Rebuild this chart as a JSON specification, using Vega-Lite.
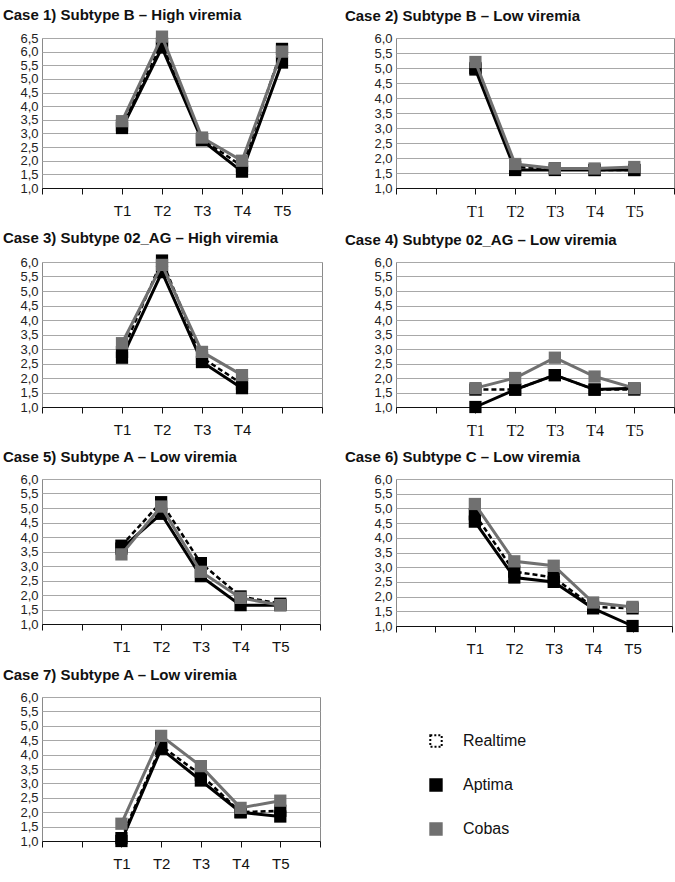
{
  "$schema": "https://vega.github.io/schema/vega-lite/v6.json",
  "padding": {"left": 2, "top": 7, "right": 0, "bottom": 0},
  "background": "white",
  "config": {
    "view": {"stroke": "#8a8a8a", "strokeWidth": 1},
    "title": {"anchor": "start", "font": "Liberation Sans", "fontSize": 15, "fontWeight": "bold", "color": "#111", "dx": -17, "offset": 8},
    "axisX": {"values": [-1, 0, 1, 2, 3, 4, 5, 6], "labelExpr": "datum.value >= 1 && datum.value <= 5 ? 'T' + datum.value : ''", "grid": false, "title": null, "domainColor": "#111", "tickColor": "#111", "tickSize": 6, "labelPadding": 9, "labelFont": "Liberation Sans", "labelFontSize": 15, "labelColor": "#111", "labelFlush": false, "labelOverlap": false},
    "axisY": {"labelExpr": "replace(format(datum.value, '.1f'), '.', ',')", "grid": true, "gridColor": "#a8a8a8", "ticks": false, "domain": false, "title": null, "labelPadding": 4, "labelFont": "Liberation Sans", "labelFontSize": 13, "labelColor": "#222", "labelFlush": false, "labelOverlap": false}
  },
  "datasets": {
    "d": [
      {"case": 1, "series": "Realtime", "t": 1, "v": 3.3},
      {"case": 1, "series": "Realtime", "t": 2, "v": 6.3},
      {"case": 1, "series": "Realtime", "t": 3, "v": 2.8},
      {"case": 1, "series": "Realtime", "t": 4, "v": 1.8},
      {"case": 1, "series": "Realtime", "t": 5, "v": 6.1},
      {"case": 1, "series": "Aptima", "t": 1, "v": 3.2},
      {"case": 1, "series": "Aptima", "t": 2, "v": 6.15},
      {"case": 1, "series": "Aptima", "t": 3, "v": 2.75},
      {"case": 1, "series": "Aptima", "t": 4, "v": 1.6},
      {"case": 1, "series": "Aptima", "t": 5, "v": 5.6},
      {"case": 1, "series": "Cobas", "t": 1, "v": 3.45},
      {"case": 1, "series": "Cobas", "t": 2, "v": 6.55},
      {"case": 1, "series": "Cobas", "t": 3, "v": 2.85},
      {"case": 1, "series": "Cobas", "t": 4, "v": 2.0},
      {"case": 1, "series": "Cobas", "t": 5, "v": 6.0},

      {"case": 2, "series": "Realtime", "t": 1, "v": 5.0},
      {"case": 2, "series": "Realtime", "t": 2, "v": 1.7},
      {"case": 2, "series": "Realtime", "t": 3, "v": 1.65},
      {"case": 2, "series": "Realtime", "t": 4, "v": 1.6},
      {"case": 2, "series": "Realtime", "t": 5, "v": 1.6},
      {"case": 2, "series": "Aptima", "t": 1, "v": 4.95},
      {"case": 2, "series": "Aptima", "t": 2, "v": 1.6},
      {"case": 2, "series": "Aptima", "t": 3, "v": 1.6},
      {"case": 2, "series": "Aptima", "t": 4, "v": 1.6},
      {"case": 2, "series": "Aptima", "t": 5, "v": 1.6},
      {"case": 2, "series": "Cobas", "t": 1, "v": 5.2},
      {"case": 2, "series": "Cobas", "t": 2, "v": 1.8},
      {"case": 2, "series": "Cobas", "t": 3, "v": 1.65},
      {"case": 2, "series": "Cobas", "t": 4, "v": 1.65},
      {"case": 2, "series": "Cobas", "t": 5, "v": 1.7},

      {"case": 3, "series": "Realtime", "t": 1, "v": 2.9},
      {"case": 3, "series": "Realtime", "t": 2, "v": 6.05},
      {"case": 3, "series": "Realtime", "t": 3, "v": 2.7},
      {"case": 3, "series": "Realtime", "t": 4, "v": 1.8},
      {"case": 3, "series": "Aptima", "t": 1, "v": 2.7},
      {"case": 3, "series": "Aptima", "t": 2, "v": 5.65},
      {"case": 3, "series": "Aptima", "t": 3, "v": 2.55},
      {"case": 3, "series": "Aptima", "t": 4, "v": 1.65},
      {"case": 3, "series": "Cobas", "t": 1, "v": 3.2},
      {"case": 3, "series": "Cobas", "t": 2, "v": 5.9},
      {"case": 3, "series": "Cobas", "t": 3, "v": 2.9},
      {"case": 3, "series": "Cobas", "t": 4, "v": 2.1},

      {"case": 4, "series": "Realtime", "t": 1, "v": 1.6},
      {"case": 4, "series": "Realtime", "t": 2, "v": 1.6},
      {"case": 4, "series": "Realtime", "t": 3, "v": 2.1},
      {"case": 4, "series": "Realtime", "t": 4, "v": 1.6},
      {"case": 4, "series": "Realtime", "t": 5, "v": 1.6},
      {"case": 4, "series": "Aptima", "t": 1, "v": 1.0},
      {"case": 4, "series": "Aptima", "t": 2, "v": 1.6},
      {"case": 4, "series": "Aptima", "t": 3, "v": 2.1},
      {"case": 4, "series": "Aptima", "t": 4, "v": 1.6},
      {"case": 4, "series": "Aptima", "t": 5, "v": 1.65},
      {"case": 4, "series": "Cobas", "t": 1, "v": 1.65},
      {"case": 4, "series": "Cobas", "t": 2, "v": 2.0},
      {"case": 4, "series": "Cobas", "t": 3, "v": 2.7},
      {"case": 4, "series": "Cobas", "t": 4, "v": 2.05},
      {"case": 4, "series": "Cobas", "t": 5, "v": 1.65},

      {"case": 5, "series": "Realtime", "t": 1, "v": 3.7},
      {"case": 5, "series": "Realtime", "t": 2, "v": 5.2},
      {"case": 5, "series": "Realtime", "t": 3, "v": 3.1},
      {"case": 5, "series": "Realtime", "t": 4, "v": 1.95},
      {"case": 5, "series": "Realtime", "t": 5, "v": 1.7},
      {"case": 5, "series": "Aptima", "t": 1, "v": 3.6},
      {"case": 5, "series": "Aptima", "t": 2, "v": 4.8},
      {"case": 5, "series": "Aptima", "t": 3, "v": 2.65},
      {"case": 5, "series": "Aptima", "t": 4, "v": 1.65},
      {"case": 5, "series": "Aptima", "t": 5, "v": 1.65},
      {"case": 5, "series": "Cobas", "t": 1, "v": 3.4},
      {"case": 5, "series": "Cobas", "t": 2, "v": 5.05},
      {"case": 5, "series": "Cobas", "t": 3, "v": 2.8},
      {"case": 5, "series": "Cobas", "t": 4, "v": 1.9},
      {"case": 5, "series": "Cobas", "t": 5, "v": 1.65},

      {"case": 6, "series": "Realtime", "t": 1, "v": 4.8},
      {"case": 6, "series": "Realtime", "t": 2, "v": 2.85},
      {"case": 6, "series": "Realtime", "t": 3, "v": 2.65},
      {"case": 6, "series": "Realtime", "t": 4, "v": 1.65},
      {"case": 6, "series": "Realtime", "t": 5, "v": 1.6},
      {"case": 6, "series": "Aptima", "t": 1, "v": 4.55},
      {"case": 6, "series": "Aptima", "t": 2, "v": 2.65},
      {"case": 6, "series": "Aptima", "t": 3, "v": 2.5},
      {"case": 6, "series": "Aptima", "t": 4, "v": 1.6},
      {"case": 6, "series": "Aptima", "t": 5, "v": 1.0},
      {"case": 6, "series": "Cobas", "t": 1, "v": 5.15},
      {"case": 6, "series": "Cobas", "t": 2, "v": 3.2},
      {"case": 6, "series": "Cobas", "t": 3, "v": 3.05},
      {"case": 6, "series": "Cobas", "t": 4, "v": 1.8},
      {"case": 6, "series": "Cobas", "t": 5, "v": 1.65},

      {"case": 7, "series": "Realtime", "t": 1, "v": 1.1},
      {"case": 7, "series": "Realtime", "t": 2, "v": 4.3},
      {"case": 7, "series": "Realtime", "t": 3, "v": 3.3},
      {"case": 7, "series": "Realtime", "t": 4, "v": 2.0},
      {"case": 7, "series": "Realtime", "t": 5, "v": 2.05},
      {"case": 7, "series": "Aptima", "t": 1, "v": 1.0},
      {"case": 7, "series": "Aptima", "t": 2, "v": 4.2},
      {"case": 7, "series": "Aptima", "t": 3, "v": 3.1},
      {"case": 7, "series": "Aptima", "t": 4, "v": 2.0},
      {"case": 7, "series": "Aptima", "t": 5, "v": 1.85},
      {"case": 7, "series": "Cobas", "t": 1, "v": 1.6},
      {"case": 7, "series": "Cobas", "t": 2, "v": 4.65},
      {"case": 7, "series": "Cobas", "t": 3, "v": 3.6},
      {"case": 7, "series": "Cobas", "t": 4, "v": 2.15},
      {"case": 7, "series": "Cobas", "t": 5, "v": 2.4}
    ]
  },
  "columns": 2,
  "spacing": {"row": 10, "column": 21},
  "concat": [
    {
      "title": "Case 1) Subtype B – High viremia",
      "width": 280, "height": 150,
      "data": {"name": "d"},
      "transform": [{"filter": "datum.case == 1"}],
      "encoding": {
        "x": {"field": "t", "type": "quantitative", "scale": {"domain": [-1, 6], "nice": false, "zero": false}},
        "y": {"field": "v", "type": "quantitative", "scale": {"domain": [1, 6.5], "nice": false, "zero": false},
              "axis": {"values": [1, 1.5, 2, 2.5, 3, 3.5, 4, 4.5, 5, 5.5, 6, 6.5]}}
      },
      "layer": [
        {"transform": [{"filter": "datum.series == 'Realtime'"}], "mark": {"type": "line", "color": "#000", "strokeWidth": 2.5, "strokeDash": [5, 3]}, "encoding": {}},
        {"transform": [{"filter": "datum.series == 'Realtime'"}], "mark": {"type": "square", "color": "#000", "size": 150, "opacity": 1}, "encoding": {}},
        {"transform": [{"filter": "datum.series == 'Aptima'"}], "mark": {"type": "line", "color": "#000", "strokeWidth": 3}, "encoding": {}},
        {"transform": [{"filter": "datum.series == 'Aptima'"}], "mark": {"type": "square", "color": "#000", "size": 150, "opacity": 1}, "encoding": {}},
        {"transform": [{"filter": "datum.series == 'Cobas'"}], "mark": {"type": "line", "color": "#707070", "strokeWidth": 3}, "encoding": {}},
        {"transform": [{"filter": "datum.series == 'Cobas'"}], "mark": {"type": "square", "color": "#707070", "size": 150, "opacity": 1}, "encoding": {}}
      ]
    },
    {
      "title": {"text": "Case 2) Subtype B – Low viremia", "dx": -29},
      "width": 278, "height": 150,
      "data": {"name": "d"},
      "transform": [{"filter": "datum.case == 2"}],
      "encoding": {
        "x": {"field": "t", "type": "quantitative", "scale": {"domain": [-1, 6], "nice": false, "zero": false},
              "axis": {"labelFont": "Liberation Serif", "labelFontSize": 16}},
        "y": {"field": "v", "type": "quantitative", "scale": {"domain": [1, 6], "nice": false, "zero": false},
              "axis": {"values": [1, 1.5, 2, 2.5, 3, 3.5, 4, 4.5, 5, 5.5, 6]}}
      },
      "layer": [
        {"transform": [{"filter": "datum.series == 'Realtime'"}], "mark": {"type": "line", "color": "#000", "strokeWidth": 2.5, "strokeDash": [5, 3]}, "encoding": {}},
        {"transform": [{"filter": "datum.series == 'Realtime'"}], "mark": {"type": "square", "color": "#000", "size": 150, "opacity": 1}, "encoding": {}},
        {"transform": [{"filter": "datum.series == 'Aptima'"}], "mark": {"type": "line", "color": "#000", "strokeWidth": 3}, "encoding": {}},
        {"transform": [{"filter": "datum.series == 'Aptima'"}], "mark": {"type": "square", "color": "#000", "size": 150, "opacity": 1}, "encoding": {}},
        {"transform": [{"filter": "datum.series == 'Cobas'"}], "mark": {"type": "line", "color": "#707070", "strokeWidth": 3}, "encoding": {}},
        {"transform": [{"filter": "datum.series == 'Cobas'"}], "mark": {"type": "square", "color": "#707070", "size": 150, "opacity": 1}, "encoding": {}}
      ]
    },
    {
      "title": "Case 3) Subtype 02_AG – High viremia",
      "width": 280, "height": 145,
      "data": {"name": "d"},
      "transform": [{"filter": "datum.case == 3"}],
      "encoding": {
        "x": {"field": "t", "type": "quantitative", "scale": {"domain": [-1, 6], "nice": false, "zero": false},
              "axis": {"labelExpr": "datum.value >= 1 && datum.value <= 4 ? 'T' + datum.value : ''"}},
        "y": {"field": "v", "type": "quantitative", "scale": {"domain": [1, 6], "nice": false, "zero": false},
              "axis": {"values": [1, 1.5, 2, 2.5, 3, 3.5, 4, 4.5, 5, 5.5, 6]}}
      },
      "layer": [
        {"transform": [{"filter": "datum.series == 'Realtime'"}], "mark": {"type": "line", "color": "#000", "strokeWidth": 2.5, "strokeDash": [5, 3]}, "encoding": {}},
        {"transform": [{"filter": "datum.series == 'Realtime'"}], "mark": {"type": "square", "color": "#000", "size": 150, "opacity": 1}, "encoding": {}},
        {"transform": [{"filter": "datum.series == 'Aptima'"}], "mark": {"type": "line", "color": "#000", "strokeWidth": 3}, "encoding": {}},
        {"transform": [{"filter": "datum.series == 'Aptima'"}], "mark": {"type": "square", "color": "#000", "size": 150, "opacity": 1}, "encoding": {}},
        {"transform": [{"filter": "datum.series == 'Cobas'"}], "mark": {"type": "line", "color": "#707070", "strokeWidth": 3}, "encoding": {}},
        {"transform": [{"filter": "datum.series == 'Cobas'"}], "mark": {"type": "square", "color": "#707070", "size": 150, "opacity": 1}, "encoding": {}}
      ]
    },
    {
      "title": {"text": "Case 4) Subtype 02_AG – Low viremia", "dx": -29},
      "width": 278, "height": 145,
      "data": {"name": "d"},
      "transform": [{"filter": "datum.case == 4"}],
      "encoding": {
        "x": {"field": "t", "type": "quantitative", "scale": {"domain": [-1, 6], "nice": false, "zero": false},
              "axis": {"labelFont": "Liberation Serif", "labelFontSize": 16}},
        "y": {"field": "v", "type": "quantitative", "scale": {"domain": [1, 6], "nice": false, "zero": false},
              "axis": {"values": [1, 1.5, 2, 2.5, 3, 3.5, 4, 4.5, 5, 5.5, 6]}}
      },
      "layer": [
        {"transform": [{"filter": "datum.series == 'Realtime'"}], "mark": {"type": "line", "color": "#000", "strokeWidth": 2.5, "strokeDash": [5, 3]}, "encoding": {}},
        {"transform": [{"filter": "datum.series == 'Realtime'"}], "mark": {"type": "square", "color": "#000", "size": 150, "opacity": 1}, "encoding": {}},
        {"transform": [{"filter": "datum.series == 'Aptima'"}], "mark": {"type": "line", "color": "#000", "strokeWidth": 3}, "encoding": {}},
        {"transform": [{"filter": "datum.series == 'Aptima'"}], "mark": {"type": "square", "color": "#000", "size": 150, "opacity": 1}, "encoding": {}},
        {"transform": [{"filter": "datum.series == 'Cobas'"}], "mark": {"type": "line", "color": "#707070", "strokeWidth": 3}, "encoding": {}},
        {"transform": [{"filter": "datum.series == 'Cobas'"}], "mark": {"type": "square", "color": "#707070", "size": 150, "opacity": 1}, "encoding": {}}
      ]
    },
    {
      "title": "Case 5) Subtype A – Low viremia",
      "width": 278, "height": 145,
      "data": {"name": "d"},
      "transform": [{"filter": "datum.case == 5"}],
      "encoding": {
        "x": {"field": "t", "type": "quantitative", "scale": {"domain": [-1, 6], "nice": false, "zero": false}},
        "y": {"field": "v", "type": "quantitative", "scale": {"domain": [1, 6], "nice": false, "zero": false},
              "axis": {"values": [1, 1.5, 2, 2.5, 3, 3.5, 4, 4.5, 5, 5.5, 6]}}
      },
      "layer": [
        {"transform": [{"filter": "datum.series == 'Realtime'"}], "mark": {"type": "line", "color": "#000", "strokeWidth": 2.5, "strokeDash": [5, 3]}, "encoding": {}},
        {"transform": [{"filter": "datum.series == 'Realtime'"}], "mark": {"type": "square", "color": "#000", "size": 150, "opacity": 1}, "encoding": {}},
        {"transform": [{"filter": "datum.series == 'Aptima'"}], "mark": {"type": "line", "color": "#000", "strokeWidth": 3}, "encoding": {}},
        {"transform": [{"filter": "datum.series == 'Aptima'"}], "mark": {"type": "square", "color": "#000", "size": 150, "opacity": 1}, "encoding": {}},
        {"transform": [{"filter": "datum.series == 'Cobas'"}], "mark": {"type": "line", "color": "#707070", "strokeWidth": 3}, "encoding": {}},
        {"transform": [{"filter": "datum.series == 'Cobas'"}], "mark": {"type": "square", "color": "#707070", "size": 150, "opacity": 1}, "encoding": {}}
      ]
    },
    {
      "title": {"text": "Case 6) Subtype C – Low viremia", "dx": -29},
      "width": 276, "height": 147,
      "data": {"name": "d"},
      "transform": [{"filter": "datum.case == 6"}],
      "encoding": {
        "x": {"field": "t", "type": "quantitative", "scale": {"domain": [-1, 6], "nice": false, "zero": false}},
        "y": {"field": "v", "type": "quantitative", "scale": {"domain": [1, 6], "nice": false, "zero": false},
              "axis": {"values": [1, 1.5, 2, 2.5, 3, 3.5, 4, 4.5, 5, 5.5, 6]}}
      },
      "layer": [
        {"transform": [{"filter": "datum.series == 'Realtime'"}], "mark": {"type": "line", "color": "#000", "strokeWidth": 2.5, "strokeDash": [5, 3]}, "encoding": {}},
        {"transform": [{"filter": "datum.series == 'Realtime'"}], "mark": {"type": "square", "color": "#000", "size": 150, "opacity": 1}, "encoding": {}},
        {"transform": [{"filter": "datum.series == 'Aptima'"}], "mark": {"type": "line", "color": "#000", "strokeWidth": 3}, "encoding": {}},
        {"transform": [{"filter": "datum.series == 'Aptima'"}], "mark": {"type": "square", "color": "#000", "size": 150, "opacity": 1}, "encoding": {}},
        {"transform": [{"filter": "datum.series == 'Cobas'"}], "mark": {"type": "line", "color": "#707070", "strokeWidth": 3}, "encoding": {}},
        {"transform": [{"filter": "datum.series == 'Cobas'"}], "mark": {"type": "square", "color": "#707070", "size": 150, "opacity": 1}, "encoding": {}}
      ]
    },
    {
      "title": "Case 7) Subtype A – Low viremia",
      "width": 278, "height": 144,
      "data": {"name": "d"},
      "transform": [{"filter": "datum.case == 7"}],
      "encoding": {
        "x": {"field": "t", "type": "quantitative", "scale": {"domain": [-1, 6], "nice": false, "zero": false}},
        "y": {"field": "v", "type": "quantitative", "scale": {"domain": [1, 6], "nice": false, "zero": false},
              "axis": {"values": [1, 1.5, 2, 2.5, 3, 3.5, 4, 4.5, 5, 5.5, 6]}}
      },
      "layer": [
        {"transform": [{"filter": "datum.series == 'Realtime'"}], "mark": {"type": "line", "color": "#000", "strokeWidth": 2.5, "strokeDash": [5, 3]}, "encoding": {}},
        {"transform": [{"filter": "datum.series == 'Realtime'"}], "mark": {"type": "square", "color": "#000", "size": 150, "opacity": 1}, "encoding": {}},
        {"transform": [{"filter": "datum.series == 'Aptima'"}], "mark": {"type": "line", "color": "#000", "strokeWidth": 3}, "encoding": {}},
        {"transform": [{"filter": "datum.series == 'Aptima'"}], "mark": {"type": "square", "color": "#000", "size": 150, "opacity": 1}, "encoding": {}},
        {"transform": [{"filter": "datum.series == 'Cobas'"}], "mark": {"type": "line", "color": "#707070", "strokeWidth": 3}, "encoding": {}},
        {"transform": [{"filter": "datum.series == 'Cobas'"}], "mark": {"type": "square", "color": "#707070", "size": 150, "opacity": 1}, "encoding": {}}
      ]
    },
    {
      "title": {"text": " "},
      "width": 80, "height": 176,
      "view": {"stroke": null},
      "data": {"values": [{"series": "Realtime"}, {"series": "Aptima"}, {"series": "Cobas"}]},
      "encoding": {
        "y": {"field": "series", "type": "nominal", "scale": {"type": "point", "domain": ["Realtime", "Aptima", "Cobas"], "padding": 1.0}, "axis": null}
      },
      "layer": [
        {"mark": {"type": "square", "size": 130, "strokeWidth": 2, "opacity": 1, "filled": true},
         "encoding": {
           "fill": {"field": "series", "type": "nominal", "scale": {"domain": ["Realtime", "Aptima", "Cobas"], "range": ["#ffffff", "#000000", "#707070"]}, "legend": null},
           "stroke": {"field": "series", "type": "nominal", "scale": {"domain": ["Realtime", "Aptima", "Cobas"], "range": ["#000000", "#000000", "#707070"]}, "legend": null},
           "strokeDash": {"field": "series", "type": "nominal", "scale": {"domain": ["Realtime", "Aptima", "Cobas"], "range": [[2, 2], [1, 0], [1, 0]]}, "legend": null}
         }},
        {"mark": {"type": "text", "align": "left", "baseline": "middle", "dx": 27, "font": "Liberation Sans", "fontSize": 16, "color": "#111"},
         "encoding": {"text": {"field": "series", "type": "nominal"}}}
      ]
    }
  ]
}
